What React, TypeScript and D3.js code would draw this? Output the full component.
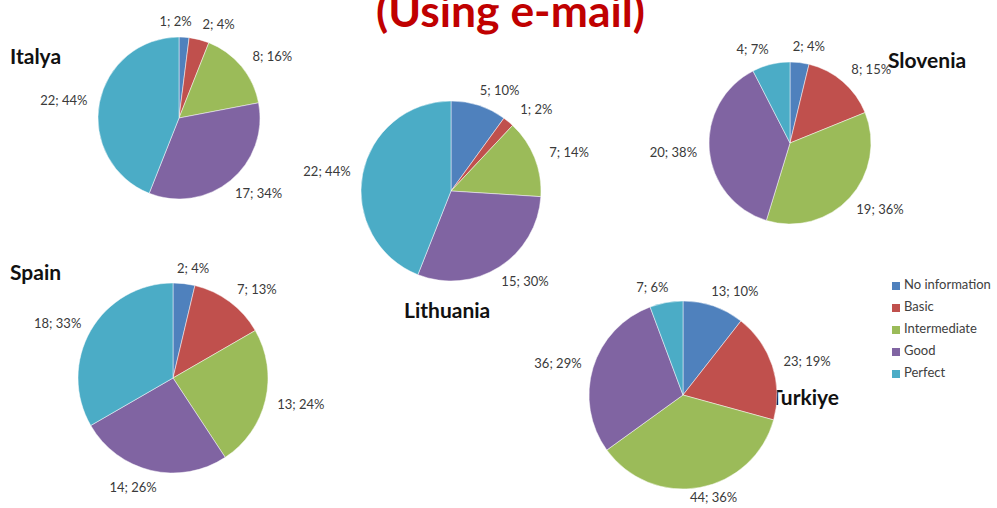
import * as d3 from "d3";

// categories + colours (Excel 2007 palette)
const categories = ["No information", "Basic", "Intermediate", "Good", "Perfect"];
const colors = ["#4F81BD", "#C0504D", "#9BBB59", "#8064A2", "#4BACC6"];

// counts and printed percentages per country
const italyaValues = [1, 2, 8, 17, 22];
const italyaPct = [2, 4, 16, 34, 44];
const lithuaniaValues = [5, 1, 7, 15, 22];
const lithuaniaPct = [10, 2, 14, 30, 44];
const sloveniaValues = [2, 8, 19, 20, 4];
const sloveniaPct = [4, 15, 36, 38, 7];
const spainValues = [2, 7, 13, 14, 18];
const spainPct = [4, 13, 24, 26, 33];
const turkiyeValues = [13, 23, 44, 36, 7];
const turkiyePct = [10, 19, 36, 29, 6];

const title = "(Using e-mail)";

// where each pie sits on the slide
const pies = [
  { name: "Italya", values: italyaValues, pct: italyaPct, cx: 179, cy: 118, r: 81, tx: 10, ty: 64, anchor: "start" },
  { name: "Lithuania", values: lithuaniaValues, pct: lithuaniaPct, cx: 451, cy: 191, r: 90, tx: 404, ty: 318, anchor: "start" },
  { name: "Slovenia", values: sloveniaValues, pct: sloveniaPct, cx: 790, cy: 143, r: 81, tx: 888, ty: 68, anchor: "start" },
  { name: "Spain", values: spainValues, pct: spainPct, cx: 173, cy: 378, r: 95, tx: 10, ty: 280, anchor: "start" },
  { name: "Turkiye", values: turkiyeValues, pct: turkiyePct, cx: 683, cy: 395, r: 94, tx: 839, ty: 405, anchor: "end" },
];

const HEIGHT = 508;
const pieGen = d3.pie<number>().sort(null).value((d) => d);
const clamp = (v: number) => Math.max(-1, Math.min(1, v));

// outside-end labels, roughly like Excel does it
function labelsFor(p: any) {
  const arcs = pieGen(p.values);
  const pos = arcs.map((a, i) => {
    const t = (a.startAngle + a.endAngle) / 2;
    const s = Math.sin(t);
    const c = Math.cos(t);
    const R = p.r + 22;
    const text = `${p.values[i]}; ${p.pct[i]}%`;
    return {
      x: p.cx + R * s + 14 * clamp(4 * s),
      y: Math.min(HEIGHT - 9, p.cy - R * c + 2 + 5.5 * c),
      text,
      w: text.length * 6.6,
    };
  });
  // push crowded neighbours apart
  for (let i = 0; i < pos.length - 1; i++) {
    const a = pos[i];
    const b = pos[i + 1];
    if (Math.abs(a.y - b.y) < 14) {
      const overlap = (a.w + b.w) / 2 + 10 - Math.abs(b.x - a.x);
      if (overlap > 0) a.x -= overlap;
    }
  }
  return pos;
}

function Pie({ p }: { p: any }) {
  const arc = d3.arc<d3.PieArcDatum<number>>().innerRadius(0).outerRadius(p.r);
  const arcs = pieGen(p.values);
  const labels = labelsFor(p);
  return (
    <g>
      <text
        x={p.tx}
        y={p.ty}
        textAnchor={p.anchor}
        fontFamily="Lato, 'Open Sans', sans-serif"
        fontWeight="bold"
        fontSize={21}
        fill="#111"
      >
        {p.name}
      </text>
      <g transform={`translate(${p.cx},${p.cy})`}>
        {arcs.map((a, i) => (
          <path key={i} d={arc(a) || ""} fill={colors[i]} stroke="#fff" strokeOpacity={0.6} strokeWidth={0.8} />
        ))}
      </g>
      {labels.map((l, i) => (
        <text
          key={i}
          x={l.x}
          y={l.y}
          textAnchor="middle"
          dominantBaseline="middle"
          fontFamily="Lato, sans-serif"
          fontSize={13}
          fill="#3a3a3a"
        >
          {l.text}
        </text>
      ))}
    </g>
  );
}

export default function App() {
  const width = 997;
  const legendY = d3.scalePoint<string>().domain(categories).range([286, 374]);

  return (
    <svg
      width={width}
      height={HEIGHT}
      style={{ position: "absolute", left: 0, top: 0, background: "#fff" }}
    >
      <text
        x={376}
        y={27}
        textLength={269}
        lengthAdjust="spacingAndGlyphs"
        fontFamily="Lato, sans-serif"
        fontWeight="bold"
        fontSize={44}
        fill="#C00000"
      >
        {title}
      </text>
      {pies.map((p) => (
        <Pie key={p.name} p={p} />
      ))}
      <g>
        {categories.map((c, i) => (
          <g key={c} transform={`translate(892,${legendY(c)})`}>
            <rect x={0} y={-4} width={8} height={8} fill={colors[i]} />
            <text x={12} y={0} dominantBaseline="middle" fontFamily="Lato, sans-serif" fontSize={13} fill="#404040">
              {c}
            </text>
          </g>
        ))}
      </g>
    </svg>
  );
}
